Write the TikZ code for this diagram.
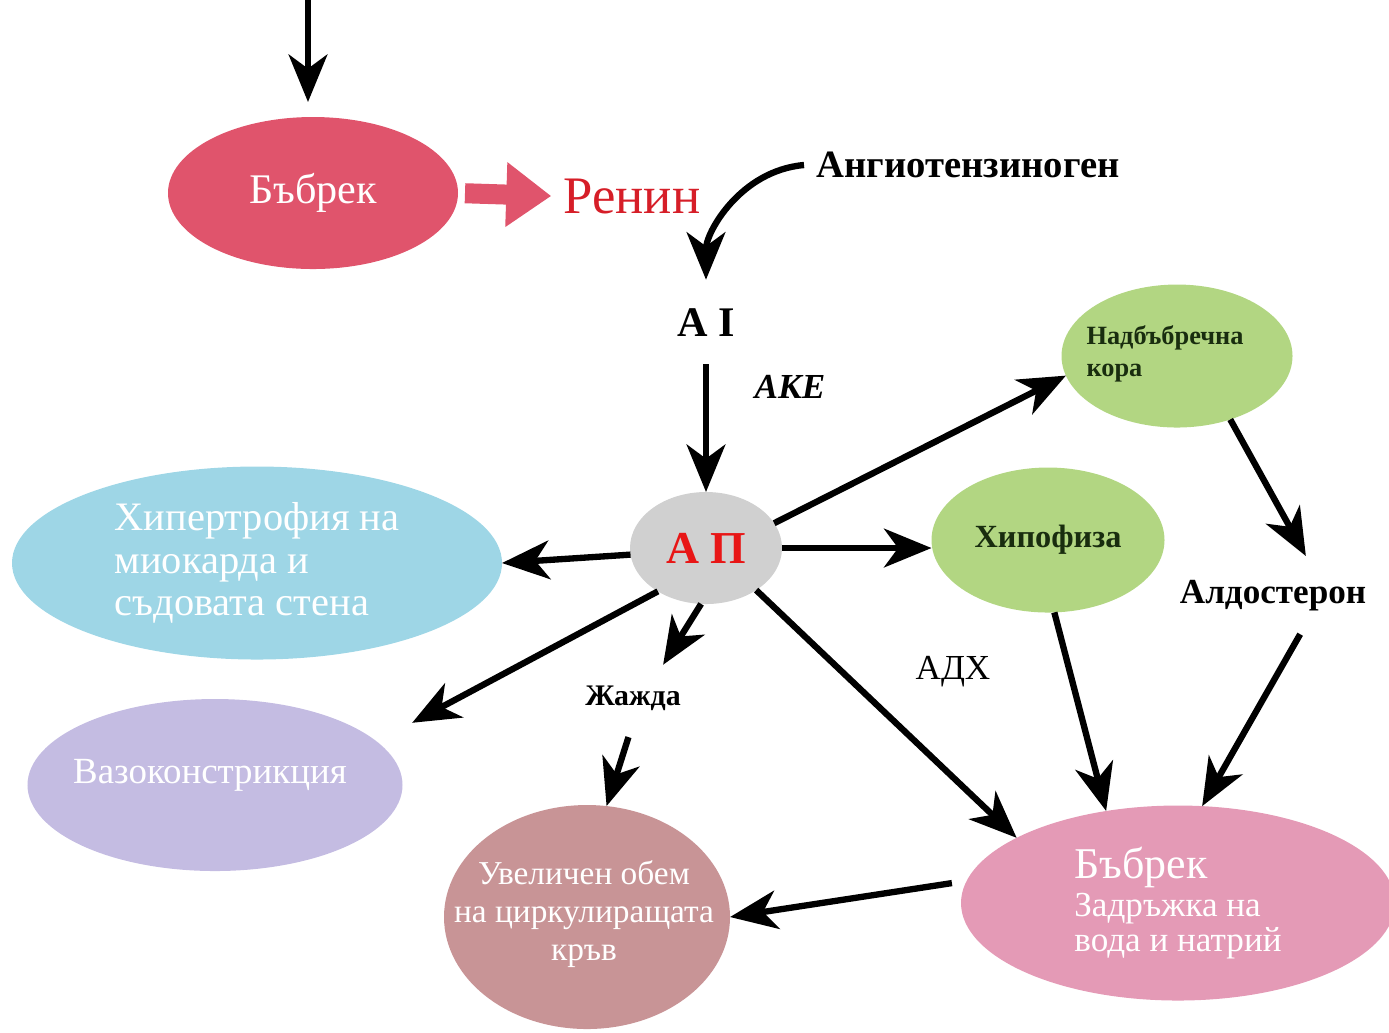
\documentclass[tikz,border=0pt]{standalone}
\usepackage{fontspec}
\setmainfont{Liberation Serif}
\usetikzlibrary{shapes.geometric, arrows.meta, positioning}
\definecolor{kidneyred}{RGB}{224, 84, 108}
\definecolor{reninred}{RGB}{214, 30, 40}
\definecolor{aiired}{RGB}{232, 22, 22}
\definecolor{agray}{RGB}{208, 208, 208}
\definecolor{heartblue}{RGB}{158, 214, 230}
\definecolor{vasolilac}{RGB}{196, 188, 226}
\definecolor{volrose}{RGB}{200, 148, 150}
\definecolor{gland}{RGB}{178, 214, 130}
\definecolor{glandtext}{RGB}{25, 45, 15}
\definecolor{kidneypink}{RGB}{228, 154, 182}

\begin{document}
\begin{tikzpicture}[
    blob/.style={ellipse, inner sep=0pt, outer sep=0pt, text=white, align=center},
    flow/.style={-{Stealth[length=13.5pt, width=11pt, inset=4pt]}, line width=1.8pt},
    pinkflow/.style={-{Triangle[length=12.8pt, width=17.6pt]}, line width=5.7pt, draw=kidneyred}]
    \useasboundingbox (0,0) rectangle (13.89,-10.32);

    % Kidney and renin
    \coordinate (src) at (3.08,0);
    \node[blob, fill=kidneyred, minimum width=2.90cm, minimum height=1.52cm,
          font=\fontsize{12}{14}\selectfont] (kidney) at (3.13,-1.93) {Бъбрек};
    \node[text=reninred, font=\fontsize{15}{17}\selectfont] (renin) at (6.32,-1.96) {Ренин};
    \node[font=\bfseries\fontsize{11}{13}\selectfont] (angio) at (9.68,-1.65) {Ангиотензиноген};

    % Angiotensin
    \node[font=\bfseries\fontsize{12}{14}\selectfont] (ai) at (7.06,-3.23) {А I};
    \node[font=\bfseries\itshape\fontsize{10}{12}\selectfont] (ake) at (7.90,-3.87) {АКЕ};
    \node[blob, fill=agray, minimum width=1.52cm, minimum height=1.12cm, text=aiired,
          font=\bfseries\fontsize{13}{15}\selectfont] (aii) at (7.06,-5.48) {А П};

    % Effects
    \node[blob, fill=heartblue, minimum width=4.90cm, minimum height=1.93cm, align=left,
          font=\fontsize{11.5}{12}\selectfont] (hyper) at (2.57,-5.63) {Хипертрофия на\\миокарда и\\съдовата стена};
    \node[blob, fill=vasolilac, minimum width=3.75cm, minimum height=1.72cm] (vaso) at (2.15,-7.85) {};
    \node[text=white, font=\fontsize{10.5}{12}\selectfont] (vasotext) at (2.10,-7.75) {Вазоконстрикция};
    \node[font=\bfseries\fontsize{8.5}{10}\selectfont] (thirst) at (6.33,-6.98) {Жажда};
    \node[blob, fill=volrose, minimum width=2.86cm, minimum height=2.24cm] (volume) at (5.87,-9.17) {};
    \node[text=white, align=center, font=\fontsize{9.5}{10.8}\selectfont] (volumetext) at (5.84,-9.14)
          {Увеличен обем\\на циркулиращата\\кръв};

    % Glands and kidney
    \node[blob, fill=gland, minimum width=2.31cm, minimum height=1.43cm] (adrenal) at (11.77,-3.56) {};
    \node[text=glandtext, align=left, font=\bfseries\fontsize{7.5}{9}\selectfont] (adrenaltext) at (11.65,-3.54)
          {Надбъбречна\\кора};
    \node[blob, fill=gland, text=glandtext, minimum width=2.33cm, minimum height=1.45cm,
          font=\bfseries\fontsize{9.2}{11}\selectfont] (hypo) at (10.48,-5.40) {Хипофиза};
    \node[font=\bfseries\fontsize{10}{12}\selectfont] (aldo) at (12.73,-5.96) {Алдостерон};
    \node[font=\fontsize{10}{12}\selectfont] (adh) at (9.53,-6.72) {АДХ};
    \node[blob, fill=kidneypink, minimum width=4.34cm, minimum height=1.95cm, align=left,
          font=\fontsize{10}{10}\selectfont] (kidneyb) at (11.78,-9.03)
          {{\fontsize{12.5}{12}\selectfont Бъбрек}\\[1pt]Задръжка на\\вода и натрий};

    % Connections
    \draw[flow, shorten >=0.15cm] (src) -- (src |- kidney.north);
    \draw[pinkflow, shorten <=0.07cm] (kidney.east) -- (renin.west);
    \draw[flow, shorten >=0.17cm] (angio.west) to[out=185, in=90] (ai.north);
    \draw[flow, shorten <=0.15cm] (ai.south) -- (aii.north);
    \draw[flow] (aii.185) -- (hyper.east);
    \draw[flow, shorten >=0.4cm] (aii.222) -- (vaso.15);
    \draw[flow, shorten >=0.1cm] (aii.265) -- (thirst.45);
    \draw[flow, shorten <=0.15cm] (thirst.south) -- (volume.80);
    \draw[flow] (aii.-40) -- (kidneyb.158);
    \draw[flow] (aii.east) -- (aii.east -| hypo.west);
    \draw[flow] (aii.20) -- (adrenal.190);
    \draw[flow, shorten >=0.14cm] (adrenal.-50) -- (aldo.35);
    \draw[flow, shorten <=0.12cm] (aldo.-40) -- (kidneyb.76);
    \draw[flow] (hypo.-85) -- (kidneyb.128);
    \draw[flow, shorten <=0.15cm] (kidneyb.174) -- (volume.east);
\end{tikzpicture}
\end{document}
